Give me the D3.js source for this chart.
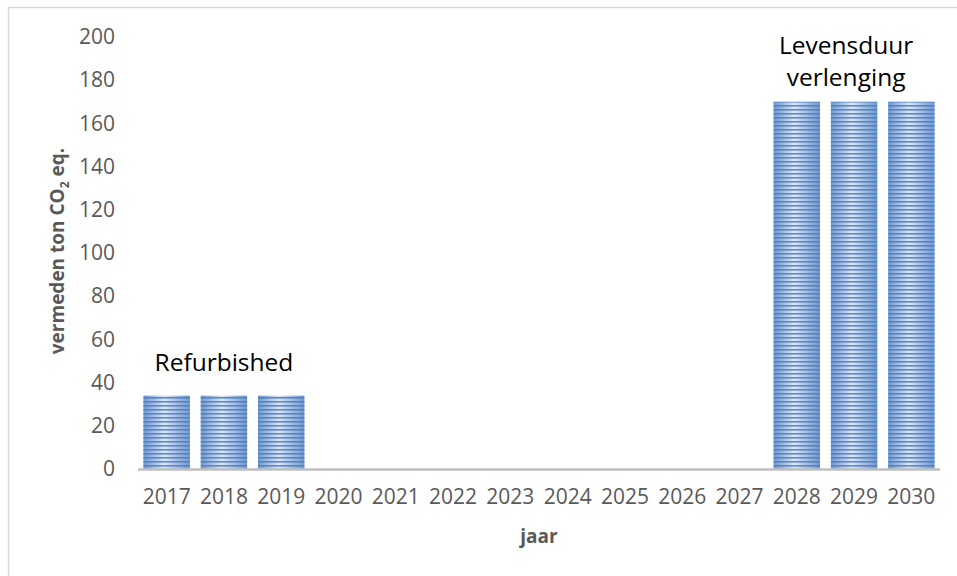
<!DOCTYPE html>
<meta charset="utf-8">
<script src="https://d3js.org/d3.v7.min.js"></script>
<style>
    body { margin: 0; background: #fff; }
    svg { display: block; }
</style>
<div id="chart"></div>
<script>

    // data
    var years = ["2017", "2018", "2019", "2020", "2021", "2022", "2023", "2024",
        "2025", "2026", "2027", "2028", "2029", "2030"];
    var values = [34, 34, 34, 0, 0, 0, 0, 0, 0, 0, 0, 170, 170, 170];
    var yTicks = [0, 20, 40, 60, 80, 100, 120, 140, 160, 180, 200];
    var notes = [
        { year: "2018", value: 34, lines: ["Refurbished"] },
        { year: "2029", value: 170, lines: ["Levensduur", "verlenging"] }
    ];

    var W = 957, H = 576;
    var margin = { top: 37, right: 17, bottom: 107, left: 138 },
        width = W - margin.left - margin.right,
        height = H - margin.top - margin.bottom;

    var root = d3.select("#chart").append("svg")
        .attr("width", W)
        .attr("height", H);

    // chart border
    root.append("rect")
        .attr("x", 8.5).attr("y", 7.5)
        .attr("width", 960).attr("height", 600)
        .attr("fill", "none")
        .attr("stroke", "#d9d9d9")
        .attr("stroke-width", 1.5);

    var defs = root.append("defs");
    var grad = defs.append("linearGradient")
        .attr("id", "barGrad")
        .attr("x1", "0").attr("x2", "1").attr("y1", "0").attr("y2", "0");
    grad.append("stop").attr("offset", "0%").attr("stop-color", "#6f97d0");
    grad.append("stop").attr("offset", "45%").attr("stop-color", "#dbe6f5");
    grad.append("stop").attr("offset", "100%").attr("stop-color", "#6f97d0");

    var pat = defs.append("pattern")
        .attr("id", "stripes")
        .attr("patternUnits", "userSpaceOnUse")
        .attr("width", 8).attr("height", 4);
    pat.append("rect")
        .attr("x", 0).attr("y", 0)
        .attr("width", 8).attr("height", 1.6)
        .attr("fill", "#4a7bbf")
        .attr("fill-opacity", 0.85);

    var svg = root.append("g")
        .attr("transform", "translate(" + margin.left + "," + margin.top + ")");

    var x = d3.scaleBand()
        .domain(years)
        .range([0, width])
        .paddingInner(0.19)
        .paddingOuter(0.095);

    var y = d3.scaleLinear()
        .domain([0, 200])
        .range([height, 0]);

    // y axis labels (no line)
    var yAxis = svg.append("g")
        .call(d3.axisLeft(y).tickValues(yTicks).tickSize(0).tickPadding(23));
    yAxis.select(".domain").remove();
    yAxis.selectAll("text")
        .attr("fill", "#595959")
        .style("font-family", "Open Sans")
        .style("font-size", "21px");

    // x axis
    var xAxis = svg.append("g")
        .attr("transform", "translate(0," + height + ")")
        .call(d3.axisBottom(x).tickSize(0).tickPadding(20));
    xAxis.select(".domain").remove();
    xAxis.selectAll("text")
        .attr("fill", "#595959")
        .style("font-family", "Open Sans")
        .style("font-size", "21px");

    // bars
    var bars = svg.selectAll(".bar")
        .data(years.map(function (d, i) { return { year: d, value: values[i] }; }))
        .enter()
        .append("g")
        .attr("class", "bar");
    bars.append("rect")
        .attr("x", function (d) { return x(d.year); })
        .attr("y", function (d) { return y(d.value); })
        .attr("width", x.bandwidth())
        .attr("height", function (d) { return height - y(d.value); })
        .attr("fill", "url(#barGrad)");
    bars.append("rect")
        .attr("x", function (d) { return x(d.year); })
        .attr("y", function (d) { return y(d.value); })
        .attr("width", x.bandwidth())
        .attr("height", function (d) { return height - y(d.value); })
        .attr("fill", "url(#stripes)");

    // baseline
    svg.append("line")
        .attr("x1", 0).attr("x2", width)
        .attr("y1", y(0) + 0.5).attr("y2", y(0) + 0.5)
        .attr("stroke", "#bfbfbf")
        .attr("stroke-width", 2.5);

    // annotations
    notes.forEach(function (n) {
        var multi = n.lines.length > 1;
        var cx = x(n.year) + x.bandwidth() / 2 - (multi ? 8 : 0);
        n.lines.forEach(function (l, i) {
            var base = y(n.value) - (multi ? 16 : 25) - (n.lines.length - 1 - i) * 32;
            svg.append("text")
                .attr("x", cx)
                .attr("y", base)
                .attr("text-anchor", "middle")
                .attr("fill", "#000")
                .style("font-family", "Open Sans")
                .style("font-size", "24.5px")
                .text(l);
        });
    });

    // axis titles
    var yt = svg.append("text")
        .attr("transform", "translate(" + (-74) + "," + (height / 2 - 2) + ") rotate(-90)")
        .attr("text-anchor", "middle")
        .attr("fill", "#595959")
        .style("font-family", "Open Sans")
        .style("font-size", "19px")
        .style("font-weight", "bold");
    yt.append("tspan").text("vermeden ton CO");
    yt.append("tspan").attr("dy", 5).style("font-size", "12px").text("2");
    yt.append("tspan").attr("dy", -5).text(" eq.");

    svg.append("text")
        .attr("x", width / 2)
        .attr("y", height + 74)
        .attr("text-anchor", "middle")
        .attr("fill", "#595959")
        .style("font-family", "Open Sans")
        .style("font-size", "19px")
        .style("font-weight", "bold")
        .text("jaar");

</script>
